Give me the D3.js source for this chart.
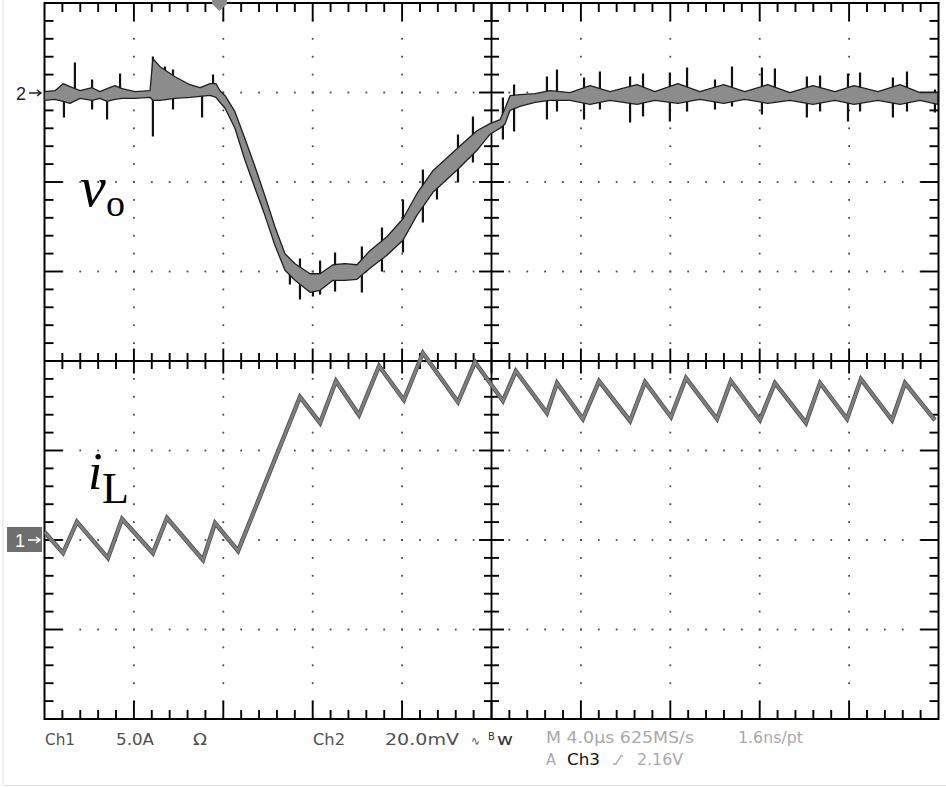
<!DOCTYPE html>
<html><head><meta charset="utf-8">
<script src="https://cdn.jsdelivr.net/npm/d3@7"></script>
<style>body{margin:0;background:#fff}svg{display:block}</style>
</head><body>
<svg id="c" width="946" height="787"></svg>
<script>
// ---- DATA ----
// Inductor current i_L (Ch1, 5 A/div), time in µs (4 µs/div)
const iLTime = [0,0.83,1.45,2.84,3.47,4.85,5.48,7.09,7.63,8.66,11.43,12.33,13.04,14.07,14.97,16.08,16.93,18.50,19.26,20.51,21.09,22.48,22.93,24.09,24.81,26.20,26.87,28.03,28.70,30.09,30.71,32.01,32.68,34.07,34.70,35.91,36.53,37.92,38.50,39.84];
const iLAmps = [0.45,-0.73,1.01,-1.01,1.17,-0.73,1.23,-1.12,0.95,-0.61,7.99,6.54,8.88,6.98,9.72,7.82,10.45,7.71,9.94,7.77,9.44,7.09,8.77,6.76,8.88,6.65,8.83,6.87,9.05,6.76,8.88,6.70,8.77,6.54,8.77,6.76,8.99,6.70,8.77,6.70];
// Output voltage v_o (Ch2, 20 mV/div, AC) envelope in mV
const voTime = [0,0.47,0.83,1.14,1.59,2.13,2.48,2.80,3.15,3.47,4.05,4.72,4.85,5.17,5.84,6.51,6.96,7.41,7.67,7.85,8.08,8.52,8.97,9.42,9.86,10.31,10.76,11.21,11.88,12.33,12.91,13.44,13.98,14.56,15.32,16.04,16.66,17.38,18.45,19.35,19.93,20.38,20.60,20.83,21.27,21.95,22.61,23.51,24.41,25.30,26.51,27.31,28.34,29.32,30.39,31.33,32.36,33.35,34.38,35.37,36.22,37.29,38.28,39.17,39.97];
const voUpper = [0,0.22,1.79,1.12,0.22,0.89,0,0.67,1.34,0.67,0,0.22,7.38,5.59,3.35,1.56,0.89,1.79,1.79,0.22,-0.89,-4.47,-10.50,-16.76,-23.24,-30.17,-36.21,-38.44,-40.68,-40.68,-38.67,-38.44,-38.67,-35.54,-32.41,-28.38,-22.80,-17.66,-12.74,-8.72,-7.15,-6.26,-3.80,-0.89,-0.67,-0.45,0.22,-0.22,1.34,0,1.56,0,1.79,0,1.56,0,1.56,-0.22,1.34,0,1.34,0,1.56,-0.22,-0.22];
const voLower = [-1.56,-1.34,-1.79,-2.24,-1.12,-1.56,-1.12,-1.79,-1.34,-1.12,-1.12,-0.89,-1.56,-1.56,-1.12,-0.89,-0.67,-0.45,-0.89,-2.01,-3.35,-7.82,-14.97,-21.23,-27.27,-33.97,-39.56,-41.79,-44.48,-44.03,-41.79,-41.79,-41.57,-39.11,-36.21,-32.85,-27.27,-22.13,-17.21,-12.74,-9.16,-7.82,-6.93,-3.80,-2.91,-2.01,-1.56,-1.56,-2.46,-1.56,-2.46,-1.56,-2.24,-1.34,-2.24,-1.34,-2.24,-1.56,-2.46,-1.56,-2.46,-1.56,-2.46,-1.56,-2.46];
// switching spikes on v_o
const spikeTime = [0.87,1.36,2.13,2.80,3.38,4.85,5.39,5.75,7.05,7.54,10.98,11.43,12.01,12.33,13.00,14.20,15.10,16.04,16.93,17.56,18.50,19.17,20.51,21.01,22.48,22.93,24.14,24.85,26.20,26.78,27.98,28.75,30.00,30.76,32.10,32.68,34.11,34.70,35.95,36.49,37.96,38.59,39.84];
const spikeTop = [0.22,6.71,2.91,0,4.25,8.05,5.81,5.14,1.12,4.02,-37.32,-37.10,-41.12,-37.55,-35.76,-34.42,-30.17,-23.91,-17.21,-17.88,-9.39,-5.36,-1.12,1.79,3.58,5.14,3.35,4.69,3.58,4.25,4.47,5.59,2.91,5.81,5.59,5.36,3.58,3.80,4.25,4.47,3.35,4.69,0.67];
const spikeBottom = [-5.59,-1.56,-3.80,-6.03,-1.12,-9.83,-1.56,-3.80,-5.59,-0.45,-42.91,-46.26,-45.59,-45.15,-44.48,-44.70,-40.01,-35.76,-29.06,-23.91,-20.12,-15.65,-10.50,-8.72,-6.03,-4.25,-6.03,-3.80,-6.71,-5.36,-6.48,-4.25,-3.80,-3.13,-4.92,-2.24,-5.59,-4.25,-6.48,-4.25,-5.59,-4.25,-4.47];
// status bar texts
const statusTexts = ["Ch1","5.0A","Ω","Ch2","20.0mV","∿","w","M 4.0µs 625MS/s","1.6ns/pt","A","Ch3","2.16V"];
const traceLabels = ["v","o","i","L"];
const markerLabels = ["2","1"];

// ---- LAYOUT ----
const svg = d3.select("#c");
const L=44.5,R=938.5,T=3,B=719;
const x  = d3.scaleLinear().domain([0,40]).range([L,R]);
const yI = d3.scaleLinear().domain([-10,30]).range([B,T]);
const yV = d3.scaleLinear().domain([-140,20]).range([B,T]);
const gx = d3.scaleLinear().domain([0,50]).range([L,R]);
const gy = d3.scaleLinear().domain([0,40]).range([T,B]);

svg.append("rect").attr("width",946).attr("height",787).attr("fill","#fff");
svg.append("line").attr("x1",3).attr("x2",3).attr("y1",0).attr("y2",785).attr("stroke","#e2e2e2").attr("stroke-width",1);
svg.append("line").attr("x1",3).attr("x2",946).attr("y1",785.5).attr("y2",785.5).attr("stroke","#e2e2e2").attr("stroke-width",1);

const grid = svg.append("g");
const dots=[];
for (let i=1;i<10;i++){ if(i===5) continue; for(let k=1;k<40;k++) dots.push([gx(i*5),gy(k)]); }
for (let j=1;j<8;j++){ if(j===4) continue; for(let k=1;k<50;k++) dots.push([gx(k),gy(j*5)]); }
grid.selectAll("rect.d").data(dots).join("rect").attr("class","d")
  .attr("x",d=>d[0]-0.9).attr("y",d=>d[1]-0.9).attr("width",1.8).attr("height",1.8).attr("fill","#4a4a4a");

grid.append("line").attr("x1",L).attr("x2",R).attr("y1",gy(20)).attr("y2",gy(20)).attr("stroke","#000").attr("stroke-width",1.8);
grid.append("line").attr("x1",gx(25)).attr("x2",gx(25)).attr("y1",T).attr("y2",B).attr("stroke","#000").attr("stroke-width",1.8);

const ticks=[];
for(let k=1;k<50;k++){
  const maj=k%5===0, X=gx(k);
  ticks.push([X,T,X,T+(maj?18:9)]);
  ticks.push([X,B,X,B-(maj?18:9)]);
  ticks.push([X,gy(20)-(maj?12.5:8),X,gy(20)+(maj?12.5:8)]);
}
for(let k=1;k<40;k++){
  const maj=k%5===0, Y=gy(k);
  ticks.push([L,Y,L+(maj?18:9),Y]);
  ticks.push([R,Y,R-(maj?18:9),Y]);
  ticks.push([gx(25)-(maj?12.5:7.5),Y,gx(25)+(maj?12.5:7.5),Y]);
}
grid.selectAll("line.t").data(ticks).join("line").attr("class","t")
  .attr("x1",d=>d[0]).attr("y1",d=>d[1]).attr("x2",d=>d[2]).attr("y2",d=>d[3])
  .attr("stroke","#000").attr("stroke-width",1.9);
grid.append("rect").attr("x",L).attr("y",T).attr("width",R-L).attr("height",B-T)
  .attr("fill","none").attr("stroke","#000").attr("stroke-width",2);

svg.append("clipPath").attr("id","clip").append("rect").attr("x",L).attr("y",T).attr("width",R-L).attr("height",B-T);
const plot = svg.append("g").attr("clip-path","url(#clip)");

// v_o spikes
const spikes = spikeTime.map((t,i)=>({t,top:spikeTop[i],bot:spikeBottom[i]}));
plot.selectAll("line.s").data(spikes).join("line").attr("class","s")
  .attr("x1",d=>x(d.t)).attr("x2",d=>x(d.t)).attr("y1",d=>yV(d.top)).attr("y2",d=>yV(d.bot))
  .attr("stroke","#111").attr("stroke-width",2.2);
// v_o envelope
const vo = voTime.map((t,i)=>({t,hi:voUpper[i],lo:voLower[i]}));
plot.append("path").datum(vo)
  .attr("d", d3.area().x(d=>x(d.t)).y0(d=>yV(d.lo)+0.8).y1(d=>yV(d.hi)-0.8))
  .attr("fill","#8c8c8c").attr("stroke","#1e1e1e").attr("stroke-width",1.3).attr("stroke-linejoin","round");

// i_L trace
const il = iLTime.map((t,i)=>({t,a:iLAmps[i]}));
const line = d3.line().x(d=>x(d.t)).y(d=>yI(d.a));
plot.append("path").datum(il).attr("d",line).attr("fill","none").attr("stroke","#555").attr("stroke-width",4.4).attr("stroke-linejoin","miter");
plot.append("path").datum(il).attr("d",line).attr("fill","none").attr("stroke","#7e7e7e").attr("stroke-width",2.6).attr("stroke-linejoin","miter");

// trigger position marker
svg.append("path").attr("d","M212,0 L227,0 L227,4 L219.5,11 L212,4 Z").attr("fill","#8a8a8a");

// channel markers
svg.append("text").attr("x",16).attr("y",100).text(markerLabels[0])
  .attr("font-family","Liberation Sans, Arial, sans-serif").attr("font-size",18).attr("fill","#222");
svg.append("path").attr("d","M29,93 L41,93 M37,90 L41,93 L37,96").attr("stroke","#222").attr("stroke-width",1.5).attr("fill","none");
svg.append("rect").attr("x",7).attr("y",527).attr("width",35).attr("height",25).attr("fill","#6e6e6e");
svg.append("text").attr("x",15).attr("y",547).text(markerLabels[1])
  .attr("font-family","Liberation Sans, Arial, sans-serif").attr("font-size",18).attr("fill","#fff");
svg.append("path").attr("d","M28,540 L40,540 M36,537 L40,540 L36,543").attr("stroke","#fff").attr("stroke-width",1.5).attr("fill","none");

// trace labels
const serif="Liberation Serif, Times New Roman, serif";
svg.append("text").attr("x",80).attr("y",206).text(traceLabels[0]).attr("font-family",serif).attr("font-style","italic").attr("font-size",58);
svg.append("text").attr("x",106).attr("y",216).text(traceLabels[1]).attr("font-family",serif).attr("font-size",38);
svg.append("text").attr("x",88).attr("y",489).text(traceLabels[2]).attr("font-family",serif).attr("font-style","italic").attr("font-size",52);
svg.append("text").attr("x",102).attr("y",503).text(traceLabels[3]).attr("font-family",serif).attr("font-size",44);

// status bar
const sans="DejaVu Sans, Liberation Sans, sans-serif";
const st=[
 {i:0,x:45,y:745,w:30,c:"#505050"},
 {i:1,x:116,y:745,w:38,c:"#505050"},
 {i:2,x:193,y:745,w:14,c:"#505050"},
 {i:3,x:313,y:745,w:32,c:"#505050"},
 {i:4,x:385,y:745,w:74,c:"#505050"},
 {i:5,x:471,y:745,w:9,c:"#505050",s:12},
 {i:6,x:497,y:745,w:16,c:"#333"},
 {i:7,x:546,y:743,w:148,c:"#a9a9a9"},
 {i:8,x:738,y:743,w:65,c:"#a9a9a9"},
 {i:9,x:546,y:765,w:10,c:"#a9a9a9"},
 {i:10,x:567,y:765,w:33,c:"#111"},
 {i:11,x:637,y:765,w:46,c:"#a9a9a9"}
];
svg.selectAll("text.st").data(st).join("text").attr("class","st")
  .attr("x",d=>d.x).attr("y",d=>d.y).text(d=>statusTexts[d.i])
  .attr("textLength",d=>d.w).attr("lengthAdjust","spacingAndGlyphs")
  .attr("font-family",sans).attr("font-size",d=>d.s||15).attr("fill",d=>d.c);
svg.append("text").attr("x",488).attr("y",740).text("B").attr("font-family",sans).attr("font-size",10).attr("fill","#333");
svg.append("path").attr("d","M613,764 L616,764 L621,756 L623,756").attr("stroke","#a9a9a9").attr("stroke-width",1.3).attr("fill","none");
</script>
</body></html>
